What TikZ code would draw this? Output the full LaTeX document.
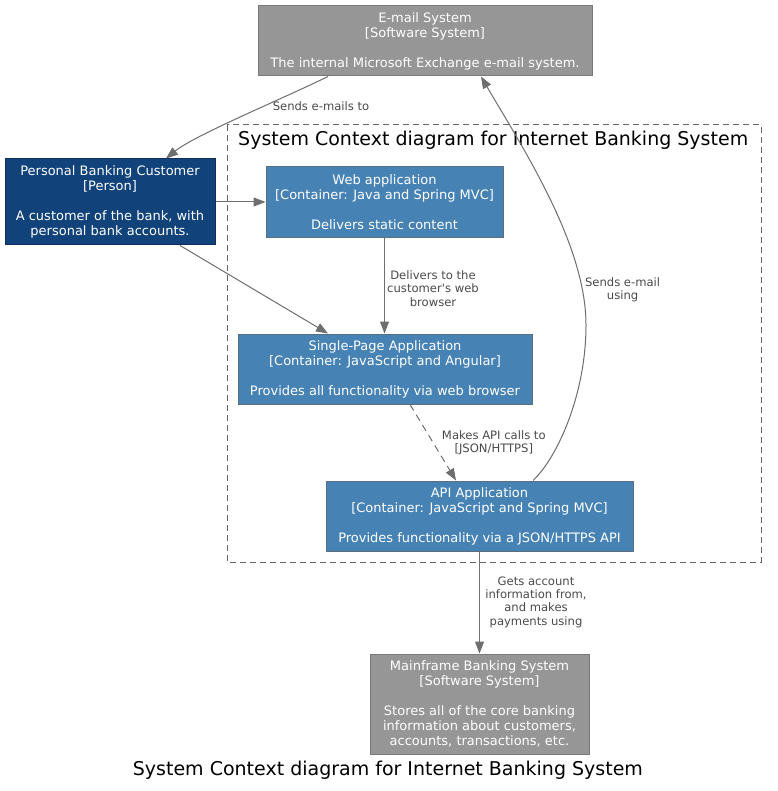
\documentclass[tikz,border=0pt]{standalone}
\usepackage{fontspec}
\setmainfont{DejaVu Sans}[Ligatures=TeXOff]
\usetikzlibrary{arrows.meta,calc}
\definecolor{sysfill}{HTML}{969696}
\definecolor{sysdraw}{HTML}{7A7A7A}
\definecolor{personfill}{HTML}{11427A}
\definecolor{persondraw}{HTML}{0B2F5A}
\definecolor{contfill}{HTML}{4682B4}
\definecolor{contdraw}{HTML}{5A6E80}
\definecolor{edgecol}{HTML}{6E6E6E}
\definecolor{lblcol}{HTML}{4A4A4A}
\definecolor{clustcol}{HTML}{666666}
\tikzset{
  boxbase/.style={rectangle, inner sep=0pt, line width=1pt, align=center,
    text=white, font=\fontsize{13}{15}\selectfont},
  sysbox/.style={boxbase, fill=sysfill, draw=sysdraw},
  personbox/.style={boxbase, fill=personfill, draw=persondraw},
  contbox/.style={boxbase, fill=contfill, draw=contdraw},
  edge/.style={draw=edgecol, line width=1pt, -{Triangle[length=12pt,width=9pt]}},
  lbl/.style={inner sep=0pt, align=center, text=lblcol, font=\fontsize{11.6}{13.3}\selectfont},
  ttl/.style={inner sep=0pt, text=black, font=\fontsize{19}{22}\selectfont},
  clusterbox/.style={draw=clustcol, line width=1pt, dash pattern=on 6pt off 4pt},
}
\begin{document}
\begin{tikzpicture}[x=1pt,y=-1pt]
\useasboundingbox (0,0) rectangle (777,791);
\fill[white] (0,0) rectangle (777,791);

% cluster
\draw[clusterbox] (227,125) rectangle (761,562);
\node[ttl, anchor=base west] (ctitle) at (238,146) {System Context diagram for Internet Banking System};

% nodes
\node[sysbox, minimum width=334pt, minimum height=70pt] (email) at (425,41)
  {E-mail System\\{}[Software System]\\[15pt]The internal Microsoft Exchange e-mail system.};
\node[personbox, minimum width=210pt, minimum height=86pt] (cust) at (110,202)
  {Personal Banking Customer\\{}[Person]\\[15pt]A customer of the bank, with\\personal bank accounts.};
\node[contbox, minimum width=237pt, minimum height=71pt] (web) at (384.5,202.5)
  {Web application\\{}[Container: Java and Spring MVC]\\[15pt]Delivers static content};
\node[contbox, minimum width=294pt, minimum height=70pt] (spa) at (385,369)
  {Single-Page Application\\{}[Container: JavaScript and Angular]\\[15pt]Provides all functionality via web browser};
\node[contbox, minimum width=307pt, minimum height=70pt] (api) at (479.5,516)
  {API Application\\{}[Container: JavaScript and Spring MVC]\\[15pt]Provides functionality via a JSON/HTTPS API};
\node[sysbox, minimum width=219pt, minimum height=100pt] (main) at (479.5,704)
  {Mainframe Banking System\\{}[Software System]\\[15pt]Stores all of the core banking\\information about customers,\\accounts, transactions, etc.};

% edges
\draw[edge] ([xshift=-97pt]email.south) .. controls (280,100) and (195,135) .. ([xshift=56pt]cust.north);
\node[lbl, anchor=base] (l1) at (321,110.7) {Sends e-mails to};

\draw[edge] (cust.east) -- (cust.east -| web.west);

\draw[edge] ([xshift=70pt]cust.south) -- ([xshift=-57pt]spa.north);

\draw[edge] (web.south) -- (web.south |- spa.north);
\node[lbl, anchor=north] (l2) at (433,270.5) {Delivers to the\\customer's web\\browser};

\draw[edge, dash pattern=on 7pt off 5pt] ([xshift=25pt]spa.south) -- ([xshift=-23.5pt]api.north);
\node[lbl, anchor=north] (l3) at (493.8,430.5) {Makes API calls to\\{}[JSON/HTTPS]};

\draw[edge] ([xshift=53.5pt]api.north) .. controls (557,458) and (586,395) .. (586,325)
  .. controls (586,245) and (524,150) .. ([xshift=56pt]email.south);
\node[lbl, anchor=north] (l4) at (622.6,277.5) {Sends e-mail\\using};

\draw[edge] (api.south) -- (main.north);
\node[lbl, anchor=north] (l5) at (536,576.5) {Gets account\\information from,\\and makes\\payments using};

% bottom title
\node[ttl, anchor=base west] (btitle) at (132.7,775) {System Context diagram for Internet Banking System};
\end{tikzpicture}
\end{document}
